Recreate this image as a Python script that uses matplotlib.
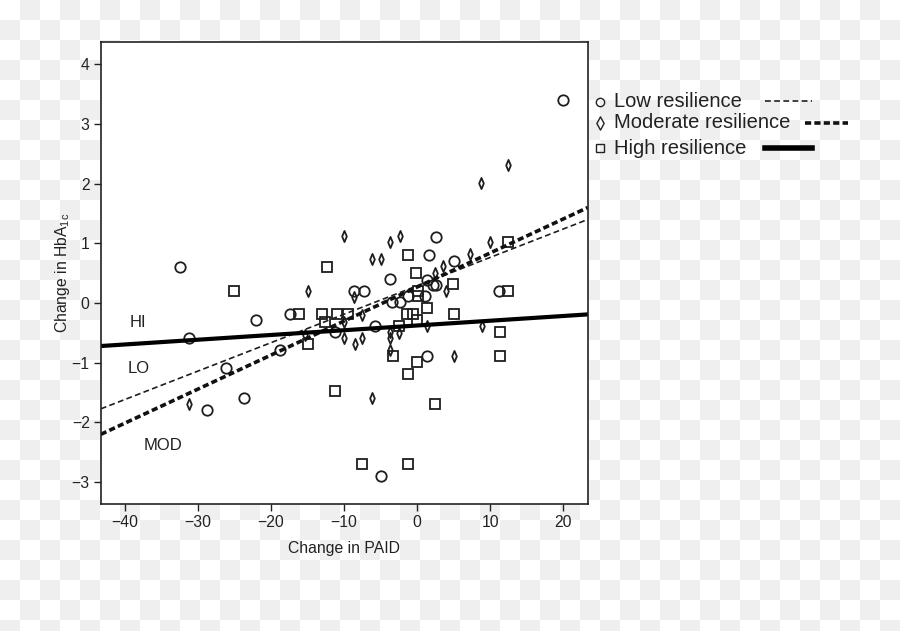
import numpy as np
import matplotlib
matplotlib.use("Agg")
import matplotlib.pyplot as plt
from matplotlib.path import Path

plt.rcParams['font.family'] = ['Liberation Sans', 'DejaVu Sans']

# change in PAID (x) and change in HbA1c (y) per resilience group
low_x = [20.0, 2.6, -32.5, 1.6, 5.0, -3.7, -8.7, -7.3, 1.3, 2.2, 2.6, 1.1, 11.2,
         -3.4, -2.4, -1.2, -22.0, -17.4, -31.2, -26.2, -18.7, -28.7, -23.7,
         -11.2, -5.8, 1.3, -5.0]
low_y = [3.40, 1.11, 0.61, 0.81, 0.71, 0.41, 0.21, 0.21, 0.39, 0.31, 0.31, 0.11, 0.21,
         0.01, 0.01, 0.11, -0.29, -0.18, -0.59, -1.08, -0.79, -1.79, -1.59,
         -0.48, -0.39, -0.89, -2.89]

mod_x = [12.5, 8.8, -10.0, -2.4, -3.7, 10.0, 7.3, -6.2, -5.0, 3.6, 2.5, 3.9, -15.0,
         -8.7, -10.0, -7.5, -15.3, -10.0, -8.5, -7.5, -3.7, -3.7, -3.7, -2.5,
         1.4, 8.9, 5.0, -6.2, -31.2]
mod_y = [2.31, 2.01, 1.12, 1.12, 1.02, 1.02, 0.82, 0.73, 0.73, 0.62, 0.51, 0.21, 0.21,
         0.10, -0.31, -0.20, -0.53, -0.59, -0.69, -0.59, -0.48, -0.59, -0.78, -0.50,
         -0.39, -0.39, -0.89, -1.59, -1.69]

high_x = [12.5, -1.2, -0.1, 4.9, 12.5, -12.4, -25.0, 0.1, 0.1, 1.3, -16.1, -13.0,
          -11.0, -9.4, -12.6, -15.0, -1.4, -0.6, 0.0, 5.0, -2.5, 11.3, -3.3, 0.0,
          11.3, -1.2, -11.2, 2.5, -7.5, -1.3]
high_y = [1.02, 0.81, 0.51, 0.32, 0.21, 0.61, 0.21, 0.21, 0.11, -0.08, -0.18, -0.18,
          -0.18, -0.18, -0.31, -0.68, -0.18, -0.18, -0.29, -0.18, -0.38, -0.49, -0.88, -0.99,
          -0.88, -1.19, -1.48, -1.69, -2.69, -2.69]

# regression lines (intercept, slope)
fit_low = (0.288, 0.0476)
fit_mod = (0.268, 0.0570)
fit_high = (-0.376, 0.00795)

group_labels = ['Low resilience', 'Moderate resilience', 'High resilience']
line_tags = ['HI', 'LO', 'MOD']
tag_x = [-38.2, -38.1, -34.8]
tag_y = [-0.33, -1.10, -2.39]

xticks = [-40, -30, -20, -10, 0, 10, 20]
yticks = [-3, -2, -1, 0, 1, 2, 3, 4]


def diamond(w):
    return Path([(-w, 0), (0, 1), (w, 0), (0, -1), (-w, 0)],
                [Path.MOVETO, Path.LINETO, Path.LINETO, Path.LINETO, Path.CLOSEPOLY])


thin_diamond = diamond(0.42)

fig = plt.figure(figsize=(9, 6.31), dpi=100)

# transparent-png checkerboard behind everything
bg = fig.add_axes([0, 0, 1, 1], zorder=-10)
ii, jj = np.meshgrid(np.arange(45), np.arange(32))
board = np.where((ii + jj) % 2 == 1, 0.937, 1.0)
bg.imshow(board, cmap='gray', vmin=0, vmax=1, extent=(0, 900, 640, 0),
          interpolation='nearest', aspect='auto')
bg.set_xlim(0, 900)
bg.set_ylim(631, 0)
bg.axis('off')

ax = fig.add_axes([0.112, 0.201, 0.541, 0.733])
ax.set_facecolor('white')
xl = (-43.3, 23.36)
yl = (-3.37, 4.38)

mk = dict(linestyle='none', markerfacecolor='none', markeredgecolor='#1e1e1e')
ax.plot(low_x, low_y, marker='o', markersize=7.5, markeredgewidth=1.3, **mk)
ax.plot(mod_x, mod_y, marker=thin_diamond, markersize=8, markeredgewidth=1.3, **mk)
ax.plot(high_x, high_y, marker='s', markersize=7.5, markeredgewidth=1.3, **mk)

xx = np.array(xl)
ax.plot(xx, fit_low[0] + fit_low[1] * xx, color='#1e1e1e', lw=1.2, dashes=(3.5, 2))
ax.plot(xx, fit_mod[0] + fit_mod[1] * xx, color='#111111', lw=2.6, dashes=(1.7, 0.9))
ax.plot(xx, fit_high[0] + fit_high[1] * xx, color='black', lw=3.0)

for t, tx, ty in zip(line_tags, tag_x, tag_y):
    ax.text(tx, ty, t, ha='center', va='center', fontsize=12, color='#222222')

ax.set_xlim(*xl)
ax.set_ylim(*yl)
ax.set_xticks(xticks)
ax.set_yticks(yticks)
ax.tick_params(direction='out', length=5, width=1, labelsize=11.3,
               colors='#222222', pad=3)
for s in ax.spines.values():
    s.set_linewidth(1.2)
    s.set_color('#222222')
ax.set_xlabel('Change in PAID', fontsize=11.3, color='#222222', labelpad=8)
ax.set_ylabel(r'Change in HbA$_{\mathregular{1c}}$', fontsize=11.3,
              color='#222222', labelpad=0)

# legend drawn by hand at the right of the plot
leg_y = [101.5, 122.7, 148.3]
markers = ['o', diamond(0.55), 's']
msizes = [6, 9.5, 6]
for lab, y, m, ms in zip(group_labels, leg_y, markers, msizes):
    fy = 1 - y / 631
    fig.add_artist(plt.Line2D([600 / 900], [fy], marker=m, markersize=ms,
                              markerfacecolor='none', markeredgecolor='#222222',
                              markeredgewidth=1.0, linestyle='none'))
    fig.text(614 / 900, fy, lab, fontsize=14.5, va='center', ha='left',
             color='#222222')
fig.add_artist(plt.Line2D([765 / 900, 812 / 900], [1 - 101 / 631] * 2,
                          color='#222222', lw=1.2, dashes=(3.5, 2)))
fig.add_artist(plt.Line2D([805 / 900, 848 / 900], [1 - 122.5 / 631] * 2,
                          color='#111111', lw=2.6, dashes=(1.7, 0.9)))
fig.add_artist(plt.Line2D([765 / 900, 812 / 900], [1 - 147.5 / 631] * 2,
                          color='black', lw=4.0))

fig.savefig('out.png', dpi=100)
